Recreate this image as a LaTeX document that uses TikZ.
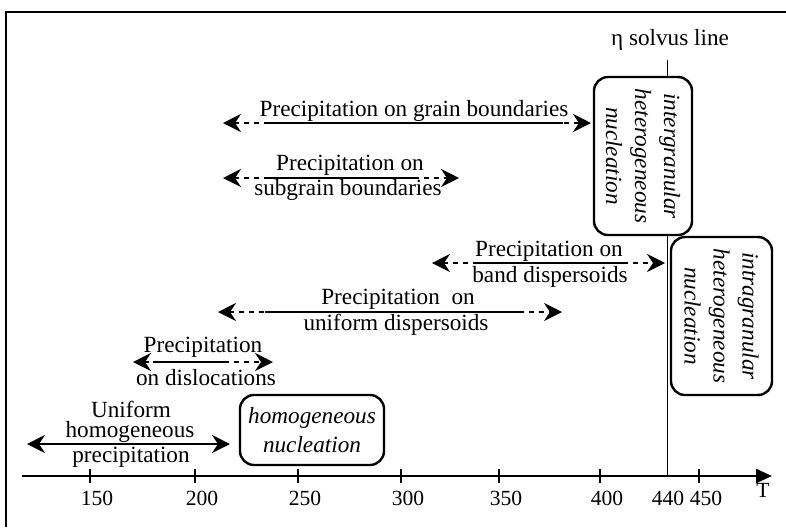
\documentclass[tikz,border=0pt]{standalone}
\usepackage{fontspec}
\setmainfont{Liberation Serif}
\usetikzlibrary{arrows.meta}
\begin{document}
\begin{tikzpicture}[x=0.5pt,y=-0.5pt,
  txt/.style={inner sep=0pt,font=\fontsize{11.6}{13}\selectfont},
  num/.style={inner sep=0pt,font=\fontsize{10.8}{12}\selectfont},
  nucbox/.style={draw,line width=1.2pt,rounded corners=7pt,fill=white,align=center,inner sep=1pt,font=\fontsize{11.6}{14.5}\selectfont\itshape},
  tips/.style={{Stealth[length=9pt,width=9pt,inset=3pt]}-{Stealth[length=9pt,width=9pt,inset=3pt]}},
  dasharr/.style={tips,line width=1pt,dash pattern=on 2.5pt off 2.5pt},
  fullarr/.style={line width=0.9pt}]
\useasboundingbox (0,0) rectangle (786,527);
% frame
\draw[line width=0.7pt] (6,527) -- (6,12) -- (786,12);
% temperature axis
\coordinate (ax0) at (22,476);
\coordinate (ax1) at (772,476);
\draw[line width=1.2pt,-{Triangle[length=8pt,width=7pt]}] (ax0) -- (ax1);
\foreach \v/\x in {150/90,200/195,250/298,300/401,350/499,400/600,450/699}{
  \draw[line width=0.8pt] (\x,469) -- (\x,483);
  \node[num] (t\v) at (\x+7,498) {\v};
}
\node[num] (t440) at (668,498) {440};
\node[num] (tT) at (763,490) {T};
% solvus line
\node[txt] (svl) at (670,40) {η solvus line};
\coordinate (sv) at (667,60);
\coordinate (sv0) at (667,476);
\draw[line width=0.5pt] (sv) -- (sv0);
% nucleation boxes
\node[nucbox,minimum width=72pt,minimum height=35pt] (hom) at (312,430) {homogeneous\\nucleation};
\node[nucbox,rotate=-90,minimum width=79pt,minimum height=49pt] (inter) at (643,156) {intergranular\\heterogeneous\\nucleation};
\node[nucbox,rotate=-90,minimum width=79pt,minimum height=50.5pt] (intra) at (721.5,316) {intragranular\\heterogeneous\\nucleation};
% grain boundaries
\coordinate (gbL) at (223,123); \coordinate (gbR) at (591,123);
\coordinate (gba) at (265,123); \coordinate (gbb) at (563,123);
\draw[dasharr] (gbL) -- (gbR);
\draw[fullarr] (gba) -- (gbb);
\node[txt] (gbT) at (414,111) {Precipitation on grain boundaries};
% subgrain boundaries
\coordinate (sgL) at (223,178); \coordinate (sgR) at (459,178);
\coordinate (sga) at (265,178); \coordinate (sgb) at (417,178);
\draw[dasharr] (sgL) -- (sgR);
\draw[fullarr] (sga) -- (sgb);
\node[txt] (sgT) at (350,165) {Precipitation on};
\node[txt] (sgB) at (348,190) {subgrain boundaries};
% band dispersoids
\coordinate (bdL) at (432,263); \coordinate (bdR) at (665,263);
\coordinate (bda) at (473,263); \coordinate (bdb) at (627,263);
\draw[dasharr] (bdL) -- (bdR);
\draw[fullarr] (bda) -- (bdb);
\node[txt] (bdT) at (549,251) {Precipitation on};
\node[txt] (bdB) at (550,277) {band dispersoids};
% uniform dispersoids
\coordinate (udL) at (218,312); \coordinate (udR) at (562,312);
\coordinate (uda) at (265,312); \coordinate (udb) at (520,312);
\draw[dasharr] (udL) -- (udR);
\draw[fullarr] (uda) -- (udb);
\node[txt] (udT) at (398,299) {Precipitation\ \ on};
\node[txt] (udB) at (396,325) {uniform dispersoids};
% dislocations
\coordinate (dsL) at (133,362); \coordinate (dsR) at (273,362);
\coordinate (dsa) at (153,362); \coordinate (dsb) at (228,362);
\draw[dasharr] (dsL) -- (dsR);
\draw[fullarr] (dsa) -- (dsb);
\node[txt] (dsT) at (203,347) {Precipitation};
\node[txt] (dsB) at (206,378) {on dislocations};
% uniform homogeneous
\coordinate (uhL) at (27,444); \coordinate (uhR) at (230,444);
\draw[fullarr,tips] (uhL) -- (uhR);
\node[txt] (uh1) at (131,409) {Uniform};
\node[txt] (uh2) at (130,432) {homogeneous};
\node[txt] (uh3) at (131,457) {precipitation};
\end{tikzpicture}
\end{document}
